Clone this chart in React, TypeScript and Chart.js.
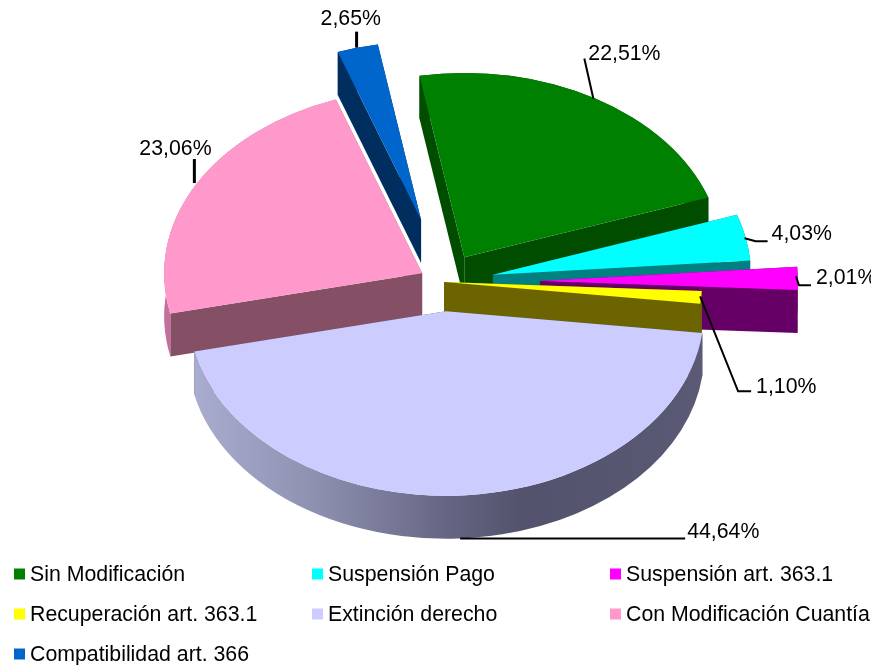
import React, { useEffect, useRef } from "react";
import { Chart, registerables } from "chart.js";

Chart.register(...registerables);

const categories = [
  "Sin Modificación",
  "Suspensión Pago",
  "Suspensión art. 363.1",
  "Recuperación art. 363.1",
  "Extinción derecho",
  "Con Modificación Cuantía",
  "Compatibilidad art. 366",
];
const values = [22.51, 4.03, 2.01, 1.1, 44.64, 23.06, 2.65];
const valueLabels = ["22,51%", "4,03%", "2,01%", "1,10%", "44,64%", "23,06%", "2,65%"];

const topColors = ["#008000", "#00ffff", "#ff00ff", "#ffff00", "#ccccff", "#ff99cc", "#0066cc"];
const wallColors = ["#004d00", "#008080", "#660066", "#6b6400", "#55556f", "#854f66", "#002f5f"];
const outerWallColors = ["#004d00", "#008080", "#660066", "#6b6400", "#55556f", "#c4709f", "#002f5f"];
const explode = [40, 50, 96, 0, 41, 25, 90];
const radiusScale = [1, 1, 1, 1, 1, 1, 0.965];
const paintOrder = [6, 0, 1, 2, 3, 5, 4];

const ROTATION = -10;
const RADIUS = 258;
const SQUASH = 0.715;
const DEPTH = 43;
const CENTER_X = 444;
const CENTER_Y = 282;
const FONT = '21.3px "Liberation Sans", Arial, sans-serif';

// Leader-line points and text start, relative to each slice's outer edge midpoint.
const leaderPaths = [
  [[-2, 0], [-11, -40]],
  [[-1, 1], [10, 4], [22, 4]],
  [[-2, -2], [1, 7], [13, 7]],
  [[-1, -1], [37, 94], [50, 94]],
  [[1, 0], [226, 0]],
  [[-2, -1], [-2, -25]],
  [[-1, 0], [-1, -16]],
];
const leaderWidths = [2, 2, 2, 2, 2, 3, 3];
const labelShift = [[-7, -44], [26, -3], [18, 0], [55, 90], [228, -6], [-57, -35], [-37, -29]];

const legendColumns = [14, 312, 610];
const legendRows = [574, 614, 654];
const LEGEND_SWATCH = 11;
const LEGEND_GAP = 5;

function sliceGeometry(arc: any, i: number) {
  const mid = (arc.startAngle + arc.endAngle) / 2;
  const off = explode[i];
  const ax = CENTER_X + Math.cos(mid) * off;
  const ay = CENTER_Y + Math.sin(mid) * off * SQUASH;
  return { ax, ay, mid, start: arc.startAngle, end: arc.endAngle, r: arc.outerRadius * radiusScale[i] };
}

const sliceDrawPlugin = {
  id: "slice3d",
  beforeDatasetsDraw(chart: any) {
    const { ctx } = chart;
    const arcs = chart.getDatasetMeta(0).data;
    for (const i of paintOrder) {
      const { ax, ay, start, end, r } = sliceGeometry(arcs[i], i);
      const ry = r * SQUASH;
      const d = DEPTH;
      const edge = (a: number) => [ax + Math.cos(a) * r, ay + Math.sin(a) * ry];

      // radial walls
      ctx.fillStyle = wallColors[i];
      for (const a of [start, end]) {
        const [ex, ey] = edge(a);
        ctx.beginPath();
        ctx.moveTo(ax, ay);
        ctx.lineTo(ex, ey);
        ctx.lineTo(ex, ey + d);
        ctx.lineTo(ax, ay + d);
        ctx.closePath();
        ctx.fill();
      }

      // outer wall
      ctx.beginPath();
      ctx.ellipse(ax, ay, r, ry, 0, start, end);
      ctx.ellipse(ax, ay + d, r, ry, 0, end, start, true);
      ctx.closePath();
      if (i === 4) {
        const g = ctx.createLinearGradient(ax - r, 0, ax + r, 0);
        g.addColorStop(0, "#aaaed0");
        g.addColorStop(0.25, "#8e90b0");
        g.addColorStop(0.5, "#666684");
        g.addColorStop(0.65, "#52526c");
        g.addColorStop(1, "#5a5a76");
        ctx.fillStyle = g;
      } else {
        ctx.fillStyle = outerWallColors[i];
      }
      ctx.fill();

      // top face
      ctx.beginPath();
      ctx.moveTo(ax, ay);
      ctx.ellipse(ax, ay, r, ry, 0, start, end);
      ctx.closePath();
      ctx.fillStyle = arcs[i].options.backgroundColor;
      ctx.fill();
    }
    return false;
  },
};

const annotationPlugin = {
  id: "annotations",
  afterDraw(chart: any) {
    const { ctx } = chart;
    const arcs = chart.getDatasetMeta(0).data;
    ctx.save();
    ctx.font = FONT;
    ctx.textBaseline = "middle";
    ctx.textAlign = "left";
    ctx.fillStyle = "#000000";
    ctx.strokeStyle = "#000000";
    arcs.forEach((arc: any, i: number) => {
      const { ax, ay, mid, r } = sliceGeometry(arc, i);
      const x0 = ax + Math.cos(mid) * r;
      const y0 = ay + Math.sin(mid) * r * SQUASH + (i === 4 ? DEPTH : 0);
      ctx.beginPath();
      leaderPaths[i].forEach(([dx, dy], j) => {
        if (j === 0) ctx.moveTo(x0 + dx, y0 + dy);
        else ctx.lineTo(x0 + dx, y0 + dy);
      });
      ctx.lineWidth = leaderWidths[i];
      ctx.stroke();
      ctx.fillText(valueLabels[i], x0 + labelShift[i][0], y0 + labelShift[i][1]);
    });
    // legend, three columns
    chart.data.labels.forEach((label: string, i: number) => {
      const x = legendColumns[i % 3];
      const y = legendRows[Math.floor(i / 3)];
      ctx.fillStyle = topColors[i];
      ctx.fillRect(x, y - LEGEND_SWATCH / 2, LEGEND_SWATCH, LEGEND_SWATCH);
      ctx.fillStyle = "#000000";
      ctx.fillText(label, x + LEGEND_SWATCH + LEGEND_GAP, y + 1);
    });
    ctx.restore();
  },
};

export default function App() {
  const ref = useRef<HTMLCanvasElement | null>(null);
  useEffect(() => {
    if (!ref.current) return;
    const chart = new Chart(ref.current, {
      type: "pie",
      data: {
        labels: categories,
        datasets: [{ data: values, backgroundColor: topColors, borderWidth: 0 }],
      },
      options: {
        responsive: false,
        animation: false,
        rotation: ROTATION,
        radius: RADIUS,
        layout: { padding: 0 },
        plugins: { legend: { display: false }, tooltip: { enabled: false } },
      },
      plugins: [sliceDrawPlugin, annotationPlugin],
    } as any);
    return () => chart.destroy();
  }, []);
  return (
    <div style={{ position: "absolute", left: 0, top: 0, width: 871, height: 665, overflow: "hidden", background: "#fff" }}>
      <canvas ref={ref} width={871} height={665} style={{ display: "block" }} />
    </div>
  );
}
